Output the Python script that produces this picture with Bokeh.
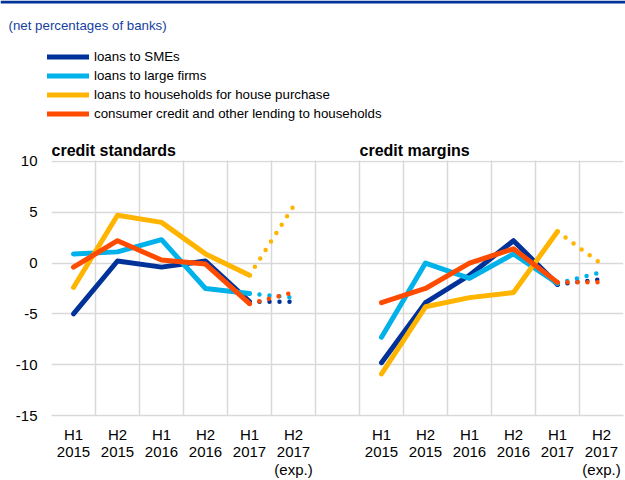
from bokeh.plotting import figure
from bokeh.layouts import column
from bokeh.models import (Range1d, FixedTicker, Label, Legend, LegendItem, BoxAnnotation)
from bokeh.embed import file_html
from bokeh.resources import INLINE

# ---------------- data ----------------
periods = ["H1\n2015", "H2\n2015", "H1\n2016", "H2\n2016", "H1\n2017", "H2\n2017\n(exp.)"]
series_names = ["loans to SMEs", "loans to large firms",
                "loans to households for house purchase",
                "consumer credit and other lending to households"]
series_colors = ["#003299", "#00b1ea", "#ffb400", "#ff4b00"]

standards_smes = [-5.0, 0.2, -0.4, 0.2, -3.8, -3.8]
standards_large = [0.9, 1.1, 2.3, -2.5, -3.0, -3.4]
standards_house = [-2.4, 4.7, 4.0, 0.9, -1.2, 5.6]
standards_consumer = [-0.4, 2.2, 0.3, -0.1, -4.0, -2.9]

margins_smes = [-9.8, -3.9, -1.2, 2.2, -2.1, -1.6]
margins_large = [-7.3, 0.0, -1.5, 0.9, -2.0, -0.9]
margins_house = [-10.9, -4.3, -3.4, -2.9, 3.1, -0.1]
margins_consumer = [-3.9, -2.5, 0.0, 1.4, -1.9, -1.9]

y_ticks = [-15, -10, -5, 0, 5, 10]
y_tick_labels = ["-15", "-10", "-5", "0", "5", "10"]
panel_titles = ["credit standards", "credit margins"]
subtitle = "(net percentages of banks)"

FONT = "Liberation Sans"
W = 625
HEAD_H = 140
MAIN_H = 480 - HEAD_H
BOTTOM = 64
PX_PER_UNIT = 10.2          # vertical scale of the chart area
TITLE_SPACE = 21            # pixels above the top gridline for the panel titles


def no_align(fig):
    try:
        fig.frame_align = False
    except Exception:
        pass


# ---------------- header (subtitle, legend) ----------------
head = figure(width=W, height=HEAD_H, output_backend="svg", toolbar_location=None,
              x_range=Range1d(0, W), y_range=Range1d(HEAD_H, 0),
              x_axis_type=None, y_axis_type=None,
              min_border=0, min_border_left=0, min_border_right=0,
              min_border_top=0, min_border_bottom=0)
no_align(head)
head.outline_line_color = None
head.background_fill_color = "white"
head.border_fill_color = "white"

head.add_layout(BoxAnnotation(left=0, right=W, top=0, bottom=3,
                              fill_color="#003299", fill_alpha=1, line_color=None))
head.add_layout(Label(x=8, y=25, text=subtitle, text_font=FONT, text_font_size="13.3px",
                      text_color="#163f9e", text_baseline="middle", text_align="left"))

legend_items = []
for nm, c in zip(series_names, series_colors):
    r = head.line(x=[float("nan")], y=[float("nan")], line_color=c, line_width=5,
                  line_cap="round")
    legend_items.append(LegendItem(label=nm, renderers=[r]))
legend = Legend(items=legend_items, location="top_left", margin=47,
                glyph_width=42, glyph_height=19, label_height=19, spacing=0,
                label_standoff=5, padding=0,
                border_line_color=None, background_fill_alpha=0,
                label_text_font=FONT, label_text_font_size="13.3px",
                label_text_color="#000000")
head.add_layout(legend, "center")

# ---------------- main chart ----------------
n = len(periods)
left_x = [i + 0.5 for i in range(n)]
right_x = [i + n + 1.5 for i in range(n)]
n_slots = 2 * n + 1
y_top = y_ticks[-1] + TITLE_SPACE / PX_PER_UNIT

p = figure(width=W, height=MAIN_H, output_backend="svg", toolbar_location=None,
           x_range=Range1d(0, n_slots), y_range=Range1d(y_ticks[0], y_top),
           min_border_left=51, min_border_right=2, min_border_top=0,
           min_border_bottom=BOTTOM)
no_align(p)
p.outline_line_color = None
p.background_fill_color = "white"
p.border_fill_color = "white"

GRID = "#d9d9d9"
p.xgrid.ticker = FixedTicker(ticks=list(range(n_slots + 1)))
p.ygrid.ticker = FixedTicker(ticks=y_ticks)
for g in (p.xgrid, p.ygrid):
    g.grid_line_color = GRID
    g.grid_line_width = 1.5

p.yaxis.ticker = FixedTicker(ticks=y_ticks)
p.yaxis.major_label_overrides = {t: lab for t, lab in zip(y_ticks, y_tick_labels)}
p.yaxis.axis_line_color = None
p.yaxis.major_tick_line_color = None
p.yaxis.minor_tick_line_color = None
p.yaxis.major_tick_out = 0
p.yaxis.major_tick_in = 0
p.yaxis.major_label_standoff = 14
p.yaxis.major_label_text_font = FONT
p.yaxis.major_label_text_font_size = "15px"
p.yaxis.major_label_text_color = "#000000"

p.xaxis.ticker = FixedTicker(ticks=left_x + right_x)
p.xaxis.major_label_overrides = {x: lab for x, lab in zip(left_x + right_x, periods + periods)}
p.xaxis.axis_line_color = GRID
p.xaxis.axis_line_width = 1.5
p.xaxis.major_tick_line_color = None
p.xaxis.minor_tick_line_color = None
p.xaxis.major_tick_out = 0
p.xaxis.major_tick_in = 0
p.xaxis.major_label_standoff = 10
p.xaxis.major_label_text_font = FONT
p.xaxis.major_label_text_font_size = "15px"
p.xaxis.major_label_text_color = "#000000"
p.xaxis.major_label_text_line_height = 1.03

panels = [
    (left_x, [standards_smes, standards_large, standards_house, standards_consumer]),
    (right_x, [margins_smes, margins_large, margins_house, margins_consumer]),
]

for xs, all_vals in panels:
    for k, vals in enumerate(all_vals):
        c = series_colors[k]
        p.line(xs[:n - 1], vals[:n - 1], line_color=c, line_width=5,
               line_join="round", line_cap="round")
        p.line(xs[n - 2:], vals[n - 2:], line_color=c, line_width=4.5,
               line_dash="0 10", line_cap="round")

# white strip above the top gridline (gridlines stop at the top value), with panel titles
p.add_layout(BoxAnnotation(bottom=y_ticks[-1] + 0.1, fill_color="white", fill_alpha=1,
                           line_color=None))
for xpos, t in zip([0, n + 1], panel_titles):
    p.add_layout(Label(x=xpos, y=y_ticks[-1] + 0.25, text=t, text_font=FONT,
                       text_font_size="16px", text_font_style="bold",
                       text_baseline="bottom", text_align="left", text_color="#000000"))

layout = column(head, p, spacing=0)
open("out.html", "w").write(file_html(layout, INLINE))
